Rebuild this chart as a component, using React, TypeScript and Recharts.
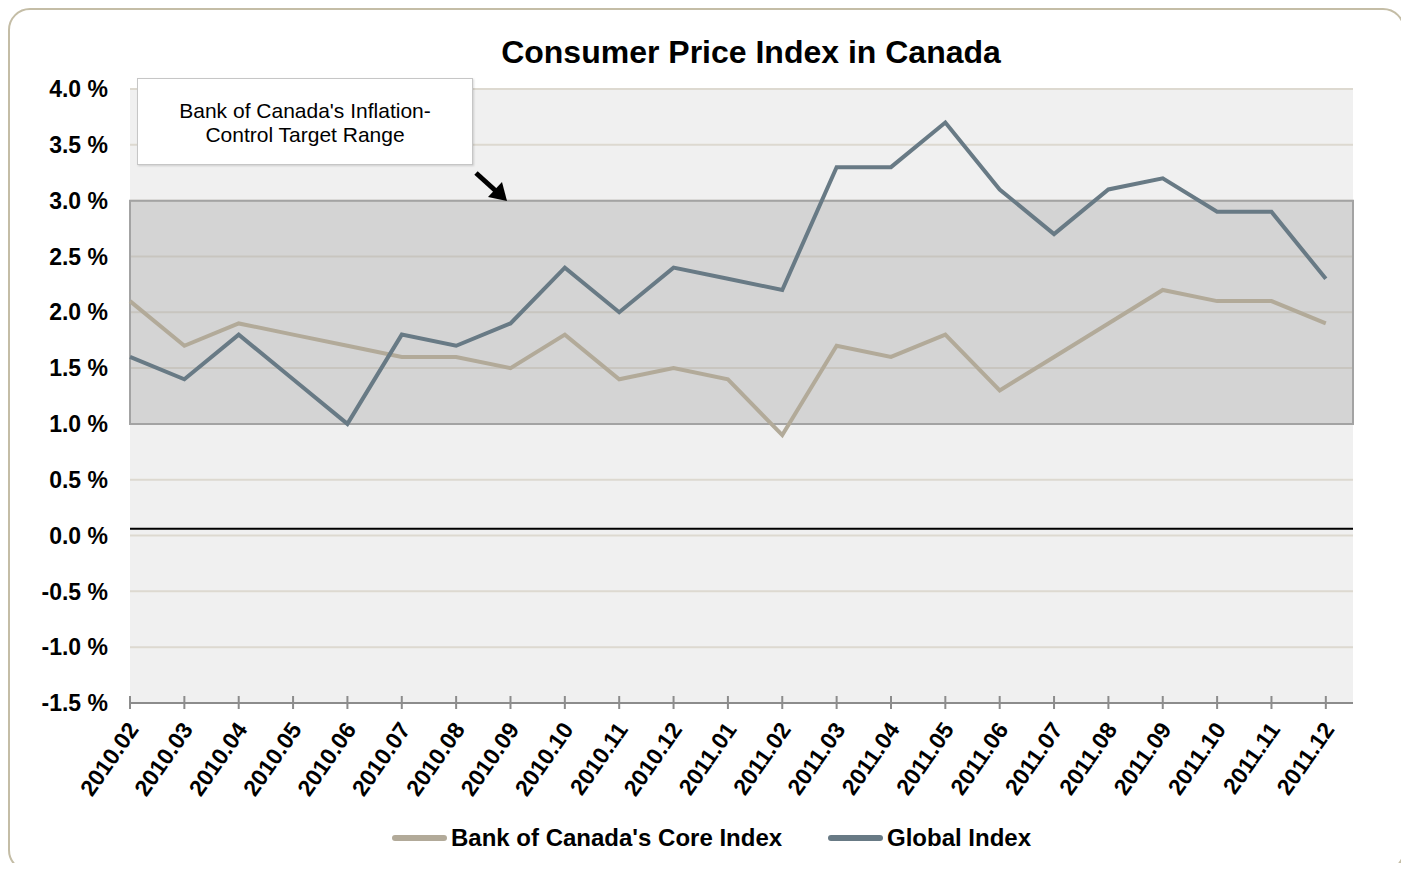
import React from "react";
import {
    LineChart,
    Line,
    XAxis,
    YAxis,
    CartesianGrid,
    ReferenceArea,
    ReferenceLine
} from "recharts";

const months = [
    "2010.02", "2010.03", "2010.04", "2010.05", "2010.06", "2010.07", "2010.08", "2010.09",
    "2010.10", "2010.11", "2010.12", "2011.01", "2011.02", "2011.03", "2011.04", "2011.05",
    "2011.06", "2011.07", "2011.08", "2011.09", "2011.10", "2011.11", "2011.12"
];

const coreIndex = [2.1, 1.7, 1.9, 1.8, 1.7, 1.6, 1.6, 1.5, 1.8, 1.4, 1.5, 1.4, 0.9, 1.7, 1.6, 1.8, 1.3, 1.6, 1.9, 2.2, 2.1, 2.1, 1.9];
const globalIndex = [1.6, 1.4, 1.8, 1.4, 1.0, 1.8, 1.7, 1.9, 2.4, 2.0, 2.4, 2.3, 2.2, 3.3, 3.3, 3.7, 3.1, 2.7, 3.1, 3.2, 2.9, 2.9, 2.3];

const yTicks = [-1.5, -1, -0.5, 0, 0.5, 1, 1.5, 2, 2.5, 3, 3.5, 4];
const targetRange = [1, 3];
const baseLine = 0.06;

const CORE_COLOR = "#b2aa99";
const GLOBAL_COLOR = "#687a85";
const FONT = "'Liberation Sans', Arial, sans-serif";

// numeric x so the plot (and target band) runs half a month past the last point
const data = months.map((m, i) => ({
    idx: i,
    month: m,
    core: coreIndex[i],
    global: globalIndex[i]
}));
const xTicks = months.map((_, i) => i);

const XTick = ({ x, y, payload }: any) => (
    <g transform={`translate(${x},${y})`}>
        <line x1={0} y1={-7} x2={0} y2={6} stroke="#8c8c8c" strokeWidth={2} />
        <text
            x={0}
            y={0}
            dy="0.35em"
            transform="translate(3,22) rotate(-55)"
            textAnchor="end"
            fontFamily={FONT}
            fontWeight="bold"
            fontSize={23}
            fill="#000"
        >
            {months[payload.value]}
        </text>
    </g>
);

const legendItems = [
    { name: "Bank of Canada's Core Index", color: CORE_COLOR, left: 392 },
    { name: "Global Index", color: GLOBAL_COLOR, left: 828 }
];

export default function App() {
    return (
        <div style={{ position: "relative", margin: -8, width: 1409, height: 871, overflow: "hidden", background: "#fff", fontFamily: FONT }}>
            {/* rounded frame */}
            <div style={{ position: "absolute", left: 8, top: 8, width: 1393, height: 860, border: "2px solid #c4bda6", borderRadius: 22 }} />

            <div style={{ position: "absolute", left: 0, top: 36, width: 1502, textAlign: "center", fontSize: 32, lineHeight: "32px", fontWeight: "bold", color: "#000" }}>
                Consumer Price Index in Canada
            </div>

            <div style={{ position: "absolute", left: 0, top: 0 }}>
                <LineChart width={1409} height={871} data={data} margin={{ top: 89, right: 56, left: 20, bottom: 0 }}>
                    <CartesianGrid vertical={false} fill="#f0f0f0" stroke="#ddd9d0" strokeWidth={2} />
                    <ReferenceArea y1={targetRange[0]} y2={targetRange[1]} fill="#a0a0a0" fillOpacity={0.35} stroke="#a3a3a3" strokeWidth={2} />
                    <ReferenceLine y={baseLine} stroke="#000" strokeWidth={2} />
                    <XAxis
                        dataKey="idx"
                        type="number"
                        domain={[0, months.length - 0.5]}
                        ticks={xTicks}
                        interval={0}
                        height={168}
                        tickSize={0}
                        tickMargin={0}
                        tickLine={false}
                        axisLine={{ stroke: "#8c8c8c", strokeWidth: 2 }}
                        tick={<XTick />}
                    />
                    <YAxis
                        width={110}
                        domain={[-1.5, 4]}
                        ticks={yTicks}
                        axisLine={false}
                        tickLine={false}
                        tickSize={0}
                        tickMargin={22}
                        tickFormatter={(v: number) => `${v.toFixed(1)} %`}
                        tick={{ fontSize: 23, fontWeight: "bold", fill: "#000", fontFamily: FONT }}
                    />
                    <Line type="linear" dataKey="core" name="Bank of Canada's Core Index" stroke={CORE_COLOR} strokeWidth={4} dot={false} isAnimationActive={false} />
                    <Line type="linear" dataKey="global" name="Global Index" stroke={GLOBAL_COLOR} strokeWidth={4} dot={false} isAnimationActive={false} />
                </LineChart>
            </div>

            {/* annotation box + arrow */}
            <div style={{ position: "absolute", left: 137, top: 78, width: 334, height: 85, background: "#fff", border: "1px solid #c6c6c6", boxShadow: "1px 1px 2px rgba(0,0,0,0.15)", display: "flex", alignItems: "center", justifyContent: "center", textAlign: "center", fontSize: 21, lineHeight: "24px", color: "#000" }}>
                <div style={{ marginTop: 2 }}>Bank of Canada's Inflation-<br />Control Target Range</div>
            </div>
            <svg style={{ position: "absolute", left: 0, top: 0 }} width={1409} height={871} pointerEvents="none">
                <line x1={476} y1={173} x2={497} y2={192} stroke="#000" strokeWidth={5} />
                <polygon points="507,201 488,197 502,182" fill="#000" />
            </svg>

            {/* legend */}
            {legendItems.map((item) => (
                <div key={item.name} style={{ position: "absolute", left: item.left, top: 824, height: 28, display: "flex", alignItems: "center", fontSize: 24, fontWeight: "bold", color: "#000", whiteSpace: "nowrap" }}>
                    <span style={{ display: "inline-block", width: 55, height: 6, borderRadius: 3, background: item.color, marginRight: 4 }} />
                    {item.name}
                </div>
            ))}
        </div>
    );
}
